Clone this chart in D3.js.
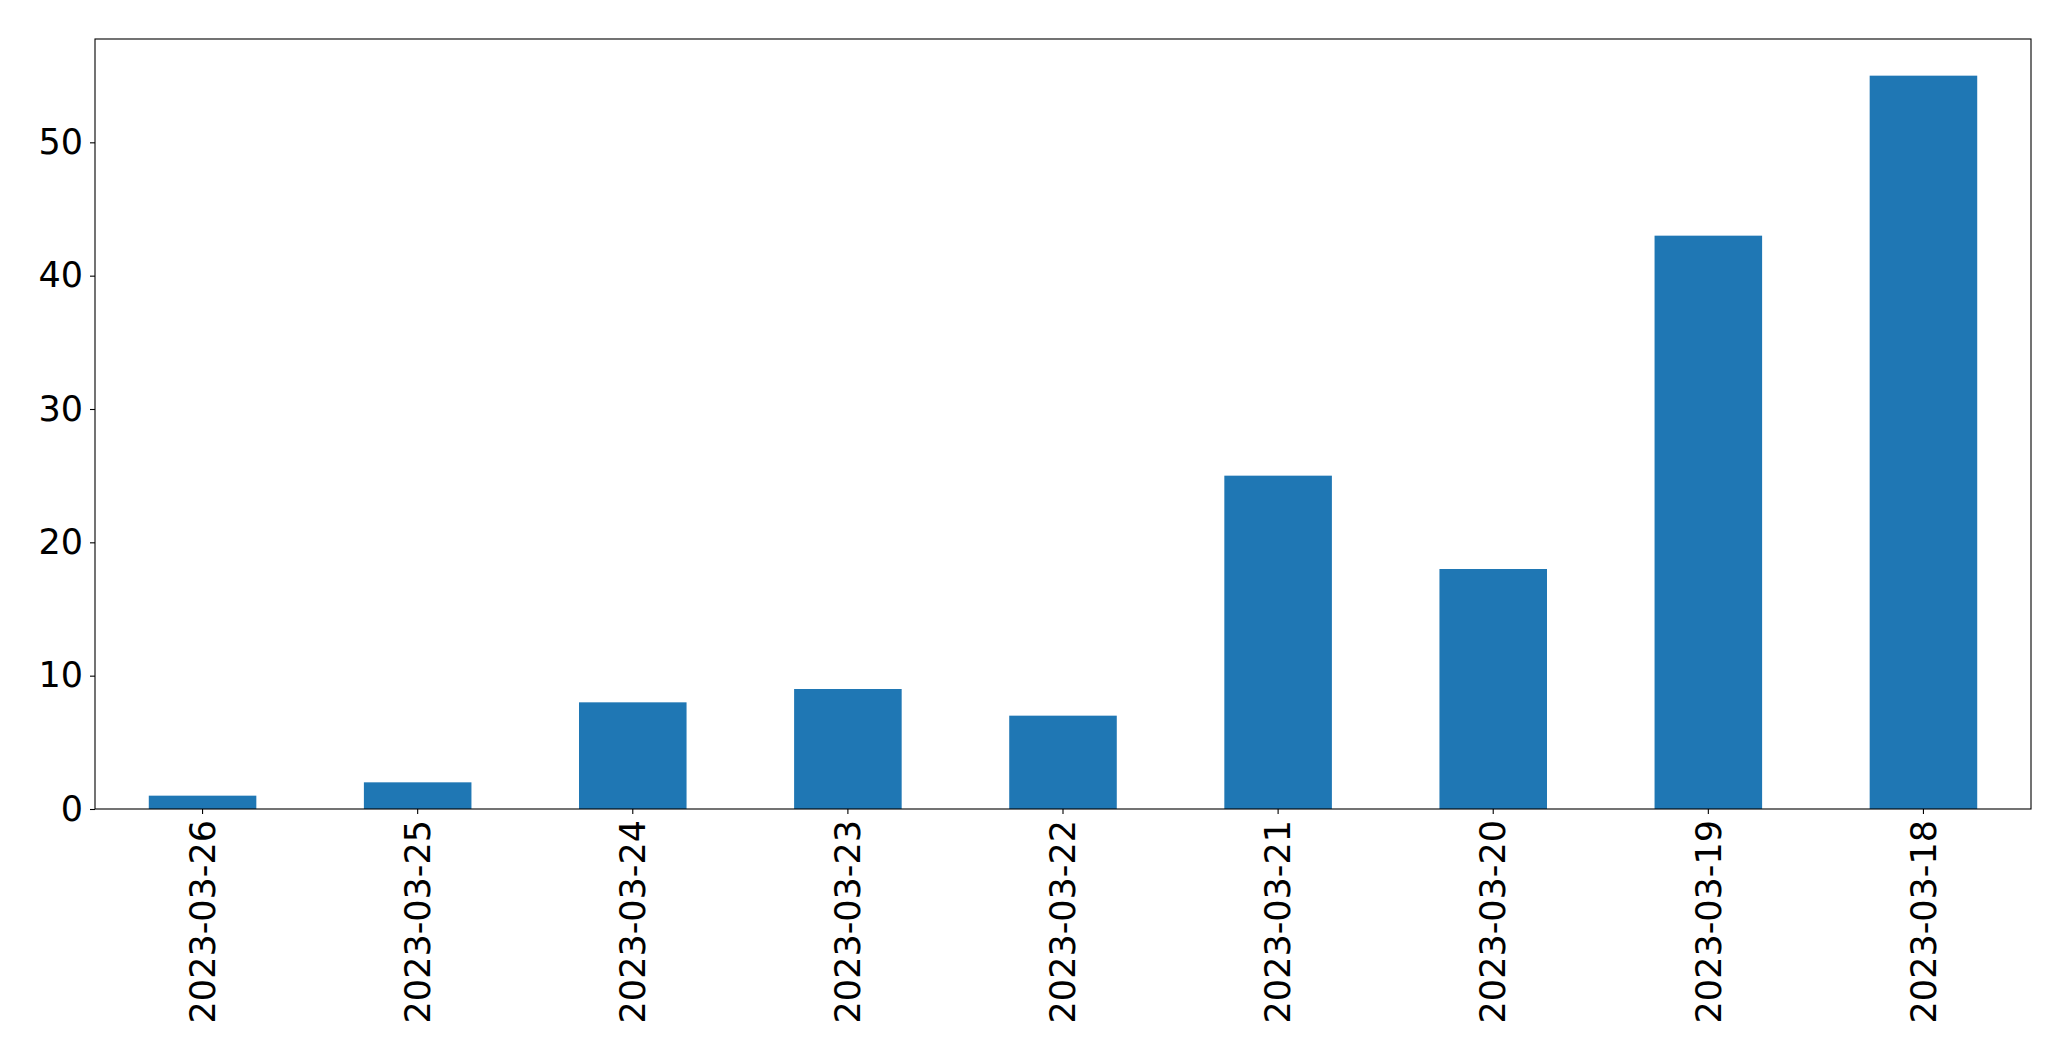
<!DOCTYPE html>
<html>
<head>
<meta charset="utf-8">
<script src="https://cdn.jsdelivr.net/npm/d3@7"></script>
<style>
  html, body { margin: 0; padding: 0; background: #fff; }
  svg { display: block; }
</style>
</head>
<body>
<script>
const categories = ["2023-03-26","2023-03-25","2023-03-24","2023-03-23","2023-03-22","2023-03-21","2023-03-20","2023-03-19","2023-03-18"];
const values = [1, 2, 8, 9, 7, 25, 18, 43, 55];
const yTicks = [0, 10, 20, 30, 40, 50];

const W = 2071, H = 1061;
const margin = {left: 95, top: 39, right: W - 2031, bottom: H - 809};
const iw = W - margin.left - margin.right;
const ih = H - margin.top - margin.bottom;

const svg = d3.select("body").append("svg").attr("width", W).attr("height", H);
const g = svg.append("g").attr("transform", `translate(${margin.left},${margin.top})`);

const x = d3.scaleBand().domain(categories).range([0, iw]).paddingInner(0.5).paddingOuter(0.25);
const y = d3.scaleLinear().domain([0, d3.max(values) * 1.05]).range([ih, 0]);

g.selectAll("rect.bar").data(values).join("rect")
  .attr("class", "bar")
  .attr("x", (d, i) => x(categories[i]))
  .attr("width", x.bandwidth())
  .attr("y", d => y(d))
  .attr("height", d => y(0) - y(d))
  .attr("fill", "#1f77b4");

const font = "DejaVu Sans, sans-serif";

const yAxis = g.append("g").call(d3.axisLeft(y).tickValues(yTicks).tickSize(5).tickPadding(7).tickFormat(d3.format("d")));
yAxis.select(".domain").remove();
yAxis.selectAll("line").attr("stroke", "#000").attr("stroke-width", 1.1);
yAxis.selectAll("text").attr("font-family", font).attr("font-size", 35).attr("fill", "#000");

const xAxis = g.append("g").attr("transform", `translate(0,${ih})`).call(d3.axisBottom(x).tickSize(5).tickPadding(0));
xAxis.select(".domain").remove();
xAxis.selectAll("line").attr("stroke", "#000").attr("stroke-width", 1.1);
xAxis.selectAll("text")
  .attr("font-family", font).attr("font-size", 35).attr("fill", "#000")
  .attr("transform", "translate(0,11) rotate(-90)")
  .attr("text-anchor", "end")
  .attr("dy", "0.35em")
  .attr("x", 0).attr("y", 0);

g.append("rect").attr("x", 0).attr("y", 0).attr("width", iw).attr("height", ih)
  .attr("fill", "none").attr("stroke", "#000").attr("stroke-width", 1.1);
</script>
</body>
</html>
